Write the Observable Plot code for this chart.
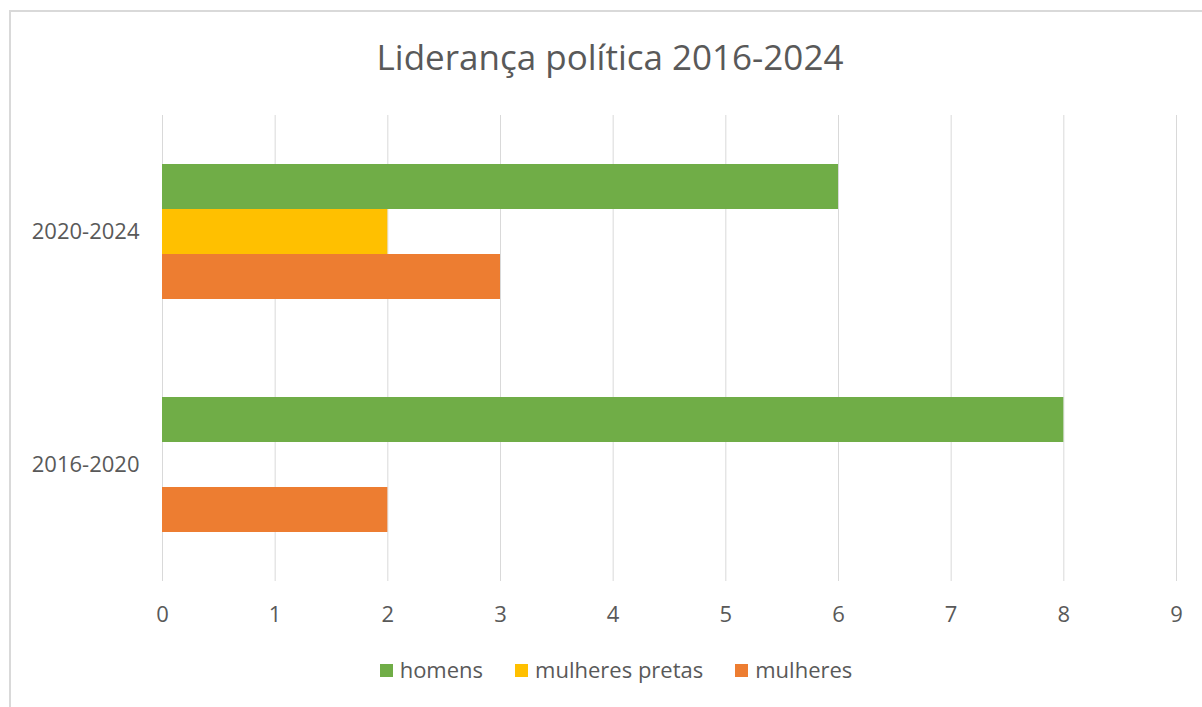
<!DOCTYPE html>
<html>
<head>
<meta charset="utf-8">
<script src="https://cdn.jsdelivr.net/npm/d3@7"></script>
<script src="https://cdn.jsdelivr.net/npm/@observablehq/plot@0.6"></script>
<style>
  html, body { margin: 0; padding: 0; background: #fff; }
  body { width: 1202px; height: 707px; overflow: hidden; position: relative; font-family: "Open Sans", sans-serif; color: #595959; }
  #frame { position: absolute; left: 9px; top: 10px; width: 1200px; height: 700px; border-left: 2px solid #d9d9d9; border-top: 2px solid #d9d9d9; box-sizing: border-box; pointer-events: none; }
  #title { height: 100px; box-sizing: border-box; padding-top: 39px; line-height: 35px; font-size: 35px; text-align: center; width: 1220px; }
  #chart svg { display: block; }
  #legend { position: absolute; top: 658px; left: 0; width: 1202px; display: flex; justify-content: center; font-size: 22px; line-height: 22px; padding-left: 30px; box-sizing: border-box; }
  .item { display: flex; align-items: center; margin: 0 16px; }
  .sw { width: 13px; height: 13px; margin-right: 7px; margin-top: 3px; }
</style>
</head>
<body>
<div id="frame"></div>
<div id="title">Liderança política 2016-2024</div>
<div id="chart"></div>
<div id="legend"></div>
<script>
const periods = ["2020-2024", "2016-2020"];
const series = ["homens", "mulheres pretas", "mulheres"];
const colors = ["#70AD47", "#FFC000", "#ED7D31"];
const homens = [6, 8];
const mulheresPretas = [2, 0];
const mulheres = [3, 2];
const xTicks = [0, 1, 2, 3, 4, 5, 6, 7, 8, 9];

const values = [homens, mulheresPretas, mulheres];
const data = [];
periods.forEach((p, i) => series.forEach((s, j) => data.push({period: p, series: s, value: values[j][i]})));

const chart = Plot.plot({
  width: 1202,
  height: 561,
  marginLeft: 162,
  marginRight: 26,
  marginTop: 15,
  marginBottom: 80,
  style: {fontFamily: "'Open Sans', sans-serif", fontSize: "22px", color: "#595959", background: "transparent"},
  x: {domain: [0, 9], ticks: xTicks, tickSize: 0, tickPadding: 25, label: null, tickFormat: d => String(d)},
  fy: {domain: periods, padding: 0, label: null, tickSize: 0, tickPadding: 23, axis: "left"},
  y: {domain: series, axis: null, paddingInner: 0, paddingOuter: 1.05},
  color: {domain: series, range: colors},
  marks: [
    Plot.ruleX(xTicks, {stroke: "#d9d9d9", strokeWidth: 1}),
    Plot.barX(data, {x: "value", y: "series", fy: "period", fill: "series"})
  ]
});
document.getElementById("chart").appendChild(chart);

const legend = document.getElementById("legend");
series.forEach((s, i) => {
  const it = document.createElement("div");
  it.className = "item";
  const sw = document.createElement("div");
  sw.className = "sw";
  sw.style.background = colors[i];
  const tx = document.createElement("span");
  tx.textContent = s;
  it.appendChild(sw); it.appendChild(tx);
  legend.appendChild(it);
});
</script>
</body>
</html>
